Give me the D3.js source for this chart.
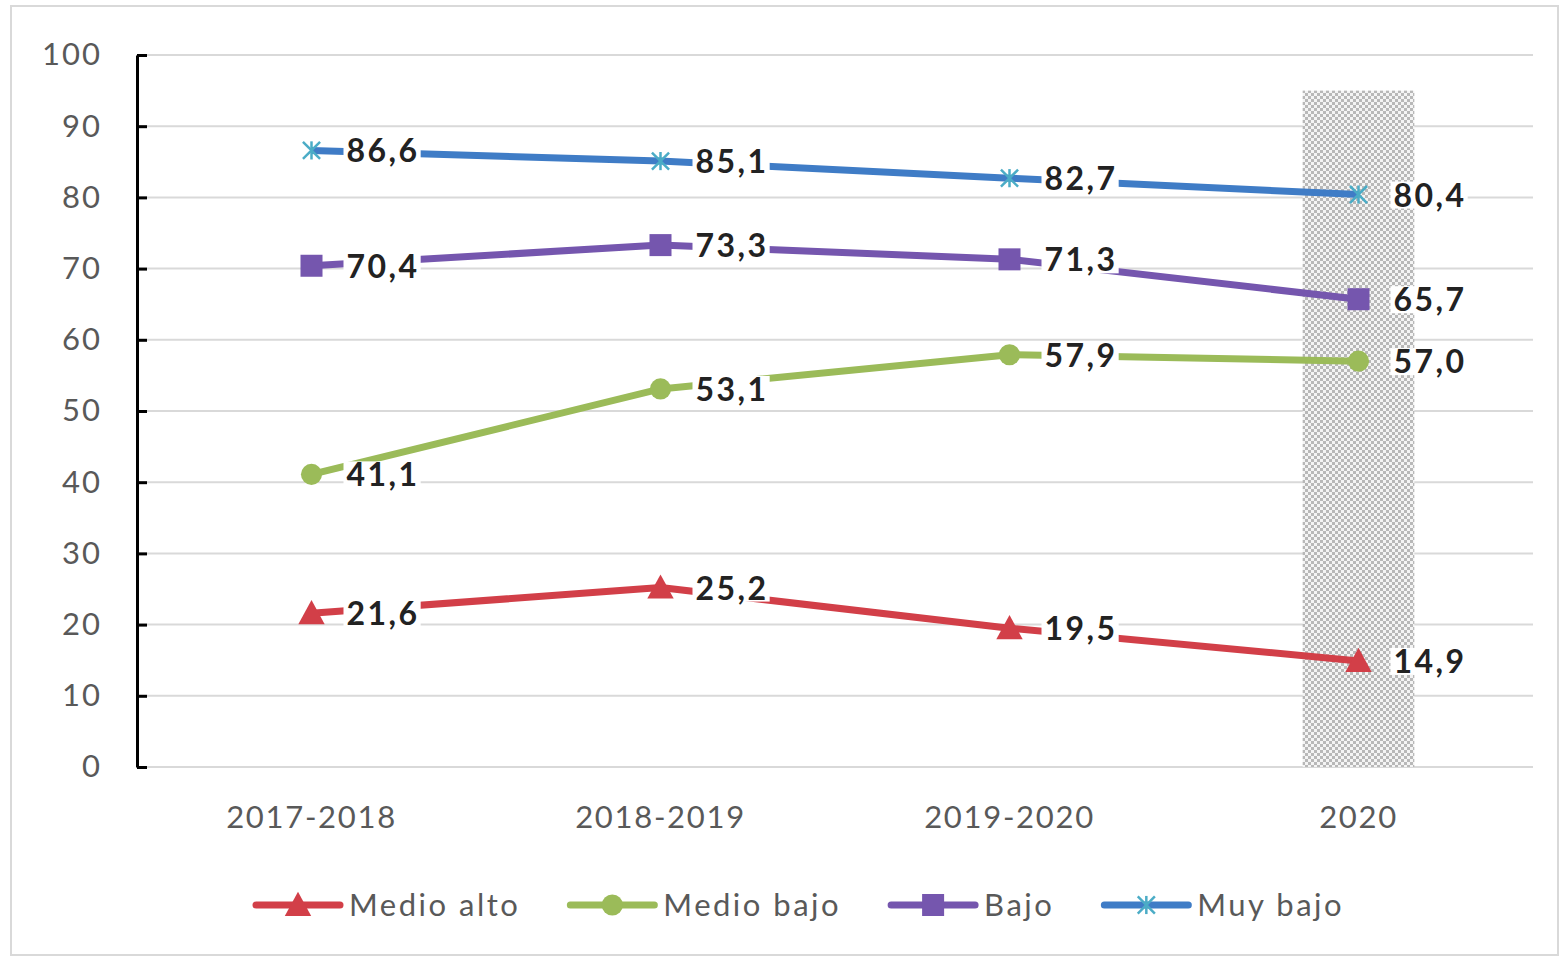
<!DOCTYPE html>
<html>
<head>
<meta charset="utf-8">
<script src="https://cdn.jsdelivr.net/npm/d3@7"></script>
<style>
  body { margin: 0; background: #fff; }
  svg { display: block; font-family: Lato, "Open Sans", sans-serif; }
</style>
</head>
<body>
<svg id="chart" width="1567" height="962"></svg>
<script>
const categories = ["2017-2018", "2018-2019", "2019-2020", "2020"];
const seriesNames = ["Medio alto", "Medio bajo", "Bajo", "Muy bajo"];
const medioAlto = [21.6, 25.2, 19.5, 14.9];
const medioBajo = [41.1, 53.1, 57.9, 57.0];
const bajo = [70.4, 73.3, 71.3, 65.7];
const muyBajo = [86.6, 85.1, 82.7, 80.4];
const yTicks = [0, 10, 20, 30, 40, 50, 60, 70, 80, 90, 100];
const highlightCat = "2020";
const highlightTop = 95;

const series = [
  { name: seriesNames[0], values: medioAlto, color: "#d23f48", marker: "triangle", mcolor: "#d23f48" },
  { name: seriesNames[1], values: medioBajo, color: "#9bbb59", marker: "circle", mcolor: "#9bbb59" },
  { name: seriesNames[2], values: bajo, color: "#7556ae", marker: "square", mcolor: "#7556ae" },
  { name: seriesNames[3], values: muyBajo, color: "#3f7cc6", marker: "star", mcolor: "#4bacc6" }
];

const svg = d3.select("#chart");
const fmt = v => d3.format(".1f")(v).replace(".", ",");

// outer frame
svg.append("rect")
  .attr("x", 11).attr("y", 6)
  .attr("width", 1547).attr("height", 949)
  .attr("fill", "#fff")
  .attr("stroke", "#d9d9d9")
  .attr("stroke-width", 2);

const plotLeft = 137, plotRight = 1533, plotTop = 55, plotBottom = 767;

const x = d3.scalePoint().domain(categories).range([plotLeft, plotRight]).padding(0.5);
const y = d3.scaleLinear().domain([0, 100]).range([plotBottom, plotTop]);

// hatched pattern
const defs = svg.append("defs");
const pat = defs.append("pattern")
  .attr("id", "hatch")
  .attr("width", 6).attr("height", 6)
  .attr("patternUnits", "userSpaceOnUse");
pat.append("rect").attr("width", 6).attr("height", 6).attr("fill", "#f4f4f4");
pat.append("rect").attr("x", 0).attr("y", 0).attr("width", 3).attr("height", 3).attr("fill", "#b8b8b8");
pat.append("rect").attr("x", 3).attr("y", 3).attr("width", 3).attr("height", 3).attr("fill", "#b8b8b8");

// gridlines
svg.append("g")
  .selectAll("line")
  .data(yTicks)
  .enter()
  .append("line")
  .attr("x1", plotLeft).attr("x2", plotRight)
  .attr("y1", d => y(d)).attr("y2", d => y(d))
  .attr("stroke", "#d9d9d9")
  .attr("stroke-width", 2);

// highlighted band
const bandW = x.step() * 0.32;
svg.append("rect")
  .attr("x", x(highlightCat) - bandW / 2)
  .attr("y", y(highlightTop))
  .attr("width", bandW)
  .attr("height", y(0) - y(highlightTop))
  .attr("fill", "url(#hatch)");

// y axis
const yAxis = svg.append("g")
  .attr("transform", "translate(" + plotLeft + ",0)")
  .call(d3.axisLeft(y).tickValues(yTicks).tickSizeInner(-10).tickSizeOuter(0).tickPadding(35));
yAxis.select(".domain").attr("stroke", "#000").attr("stroke-width", 3);
yAxis.selectAll(".tick line").attr("stroke", "#000").attr("stroke-width", 3);
yAxis.selectAll(".tick text")
  .attr("fill", "#595959")
  .style("font-size", "31px")
  .style("letter-spacing", "2px")
  .style("font-family", "Lato, sans-serif");

// x labels
svg.append("g")
  .selectAll("text")
  .data(categories)
  .enter()
  .append("text")
  .attr("x", d => x(d))
  .attr("y", 828)
  .attr("text-anchor", "middle")
  .attr("fill", "#595959")
  .style("font-size", "31px")
  .style("letter-spacing", "1.7px")
  .text(d => d);

function drawMarker(g, type, color, s) {
  if (type === "triangle") {
    g.append("path").attr("d", `M0,${-s * 0.6}L${s * 0.6},${s * 0.5}L${-s * 0.6},${s * 0.5}Z`).attr("fill", color);
  } else if (type === "circle") {
    g.append("circle").attr("r", s * 0.48).attr("fill", color);
  } else if (type === "square") {
    g.append("rect").attr("x", -s / 2).attr("y", -s / 2).attr("width", s).attr("height", s).attr("fill", color);
  } else {
    const r = s * 0.55;
    [45, 135].forEach(a => {
      const rad = a * Math.PI / 180;
      g.append("line")
        .attr("x1", -r * Math.cos(rad)).attr("y1", -r * Math.sin(rad))
        .attr("x2", r * Math.cos(rad)).attr("y2", r * Math.sin(rad))
        .attr("stroke", color).attr("stroke-width", 2.5);
    });
    g.append("line").attr("x1", 0).attr("x2", 0).attr("y1", -r * 0.75).attr("y2", r * 0.75)
      .attr("stroke", color).attr("stroke-width", 2.5);
  }
}

const line = d3.line().x((d, i) => x(categories[i])).y(d => y(d));

series.forEach(s => {
  const g = svg.append("g");
  g.append("path")
    .attr("d", line(s.values))
    .attr("fill", "none")
    .attr("stroke", s.color)
    .attr("stroke-width", 7)
    .attr("stroke-linejoin", "round");

  s.values.forEach((v, i) => {
    const m = g.append("g").attr("transform", "translate(" + x(categories[i]) + "," + y(v) + ")");
    drawMarker(m, s.marker, s.mcolor, 22);
  });

  s.values.forEach((v, i) => {
    const lg = g.append("g").attr("transform", "translate(" + (x(categories[i]) + 35) + "," + y(v) + ")");
    const bg = lg.append("rect").attr("fill", "#fff");
    const t = lg.append("text")
      .attr("x", 0)
      .attr("y", 12)
      .attr("fill", "#222")
      .style("font-size", "32px")
      .style("letter-spacing", "2.5px")
      .style("font-weight", "bold")
      .text(fmt(v));
    const bb = t.node().getBBox();
    bg.attr("x", bb.x - 3).attr("y", -13).attr("width", bb.width + 4).attr("height", 27);
  });
});

// legend
const legend = svg.append("g").attr("transform", "translate(256,905)");
let lx = 0;
series.forEach(s => {
  const item = legend.append("g").attr("transform", "translate(" + lx + ",0)");
  item.append("line")
    .attr("x1", 0).attr("x2", 84)
    .attr("stroke", s.color)
    .attr("stroke-width", 7)
    .attr("stroke-linecap", "round");
  const m = item.append("g").attr("transform", "translate(42,0)");
  drawMarker(m, s.marker, s.mcolor, 22);
  const t = item.append("text")
    .attr("x", 93)
    .attr("y", 11)
    .attr("fill", "#595959")
    .style("font-size", "31px")
    .style("letter-spacing", "2.5px")
    .text(s.name);
  lx += 93 + t.node().getComputedTextLength() + 50;
});
</script>
</body>
</html>
